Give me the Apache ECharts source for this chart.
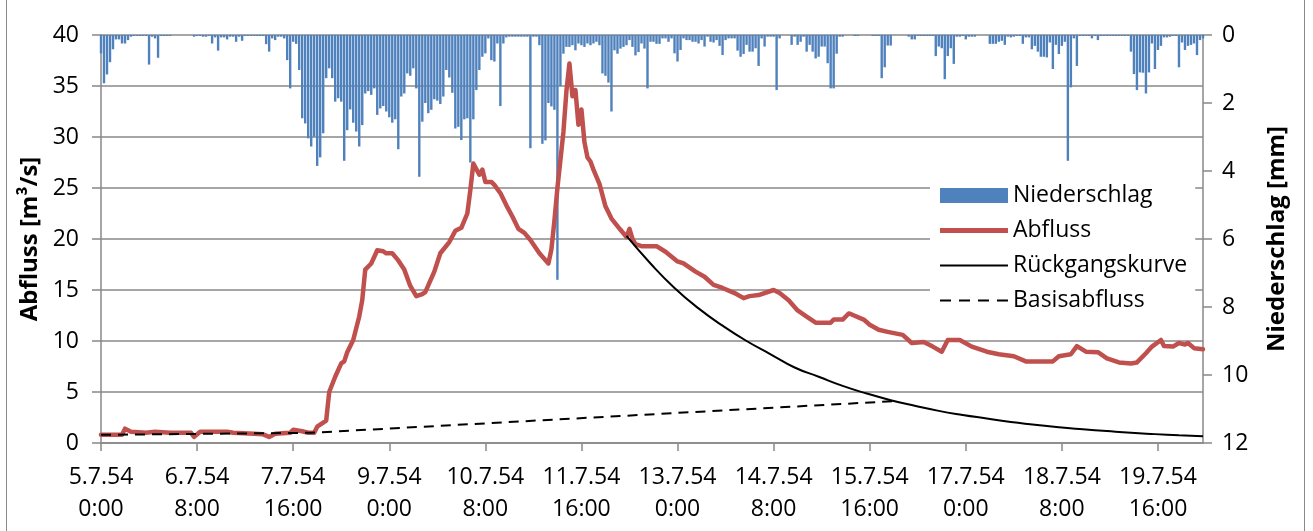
<!DOCTYPE html>
<html>
<head>
<meta charset="utf-8">
<script src="https://cdn.jsdelivr.net/npm/echarts@6/dist/echarts.min.js"></script>
<style>
  html, body { margin: 0; padding: 0; background: #fff; }
  #frame { position: absolute; left: 6px; top: -2px; width: 1299px; height: 534px; border: 1px solid #8a8a8a; box-sizing: border-box; }
  #chart { position: absolute; left: 0; top: 0; width: 1313px; height: 531px; }
</style>
</head>
<body>
<div id="frame"></div>
<div id="chart"></div>
<script>
// hourly steps from 5.7.54 0:00
const hours = Array.from({ length: 368 }, (_, i) => i)
const xTickLabels = ['5.7.54\n0:00', '6.7.54\n8:00', '7.7.54\n16:00', '9.7.54\n0:00', '10.7.54\n8:00', '11.7.54\n16:00',
  '13.7.54\n0:00', '14.7.54\n8:00', '15.7.54\n16:00', '17.7.54\n0:00', '18.7.54\n8:00', '19.7.54\n16:00']

// Niederschlag [mm] per hour, one row per day
const niederschlag = [
  0.54, 1.42, 1.16, 0.8, 0.42, 0.13, 0.13, 0.25, 0.25, 0.15, 0.05, 0.03, 0.03, 0.03, 0.03, 0.03, 0.87, 0.05, 0.1, 0.67, 0.03, 0.03, 0.03, 0.03,
  0, 0, 0, 0, 0, 0, 0, 0.05, 0.03, 0.03, 0.05, 0.05, 0.03, 0.25, 0.07, 0.46, 0.07, 0.07, 0.13, 0.05, 0.05, 0.2, 0.05, 0.17,
  0.03, 0.03, 0.03, 0.03, 0.03, 0.03, 0.03, 0.27, 0.49, 0.1, 0.15, 0.05, 0.05, 0.1, 0.74, 1.57, 0.2, 0.26, 1.03, 2.45, 2.6, 3.04, 3.28, 2.99,
  3.85, 3.6, 2.89, 1.27, 0.98, 1.27, 1.96, 1.86, 1.96, 3.7, 2.8, 2.19, 2.58, 2.84, 3.28, 2.65, 1.72, 1.65, 1.76, 1.57, 2.35, 2.16, 2.09, 2.25,
  2.42, 2.58, 2.48, 3.36, 1.81, 1.72, 1.13, 1.2, 0.98, 1.57, 4.17, 2.55, 2.0, 2.3, 2.2, 1.89, 1.93, 2.03, 1.81, 1.03, 1.25, 1.7, 2.75, 2.7,
  3.09, 2.48, 2.45, 3.75, 2.48, 1.62, 1.03, 0.64, 0.54, 0.1, 0.74, 0.78, 0.25, 2.09, 0.25, 0.07, 0.05, 0.05, 0.05, 0.05, 0.05, 0.05, 0.05, 3.33,
  0.05, 0.05, 0.3, 3.2, 3.1, 2.0, 2.1, 2.2, 7.2, 1.5, 0.55, 0.35, 0.35, 0.3, 0.45, 0.25, 0.3, 0.35, 0.25, 0.3, 0.25, 0.2, 0.3, 1.13,
  1.2, 1.4, 2.25, 0.45, 0.55, 0.4, 0.35, 0.3, 0.15, 0.35, 0.6, 0.5, 0.25, 0.4, 1.57, 0.2, 0.2, 0.26, 0.26, 0.1, 0.1, 0.2, 0.1, 0.54,
  0.78, 0.44, 0.1, 0.15, 0.15, 0.2, 0.2, 0.25, 0.15, 0.34, 0.05, 0.2, 0.22, 0.15, 0.32, 0.59, 0.15, 0.1, 0.1, 0.1, 0.46, 0.64, 0.56, 0.29,
  0.49, 0.49, 0.39, 0.91, 0.1, 0.34, 0.05, 0.05, 0.05, 1.62, 0.1, 0, 0, 0, 0.29, 0.05, 0.29, 0.2, 0.05, 0.49, 0.29, 0.49, 0.69, 0.64,
  0.34, 0.34, 0.83, 1.57, 1.57, 0.55, 0.05, 0.05, 0, 0, 0, 0.03, 0.03, 0, 0, 0, 0, 0.03, 0.03, 0.03, 1.27, 0.95, 0.31, 0.31,
  0, 0, 0, 0, 0, 0.05, 0.13, 0.13, 0.03, 0.03, 0.03, 0.03, 0.03, 0.03, 0.62, 0.34, 0.39, 1.3, 0.62, 0.39, 0.85, 0.05, 0.05, 0.03,
  0.13, 0.05, 0.05, 0.05, 0, 0, 0, 0, 0.26, 0.26, 0.26, 0.2, 0.17, 0.29, 0.05, 0.07, 0.05, 0.03, 0.03, 0.26, 0.07, 0.07, 0.42, 0.32,
  0.49, 0.64, 0.64, 0.66, 0.22, 1.0, 0.29, 0.56, 0.32, 0.2, 3.7, 1.54, 0.1, 0.91, 0.03, 0.03, 0.03, 0.03, 0.1, 0.03, 0.15, 0.03, 0.03, 0.03,
  0.03, 0.03, 0.03, 0.03, 0.03, 0.03, 0.03, 0.49, 1.15, 1.62, 1.1, 1.11, 1.72, 1.1, 0.25, 1.0, 0.44, 0.32, 0.07, 0.07, 0.05, 0.03, 0.03, 0.95,
  0.22, 0.44, 0.32, 0.29, 0.25, 0.59, 0.15, 0.1
]

// Abfluss [m3/s] as [hour, value]
const abfluss = [
  [0, 0.8], [7, 0.8], [8, 1.4], [10, 1.1], [15, 1.0], [18, 1.1], [23, 1.0], [30, 1.0], [31, 0.6], [33, 1.1], [42, 1.1], [44, 1.0],
  [51, 0.9], [54, 0.85], [56, 0.6], [58, 0.9], [63, 1.0], [64, 1.3], [67, 1.15], [69, 1.0], [71, 1.0], [72, 1.6], [75, 2.2], [76, 5.0],
  [78, 6.5], [80, 7.8], [81, 8.0], [82, 8.9], [84, 10.1], [86, 12.4], [87, 14.0], [88, 17.0], [90, 17.6], [92, 18.9], [94, 18.8], [95, 18.6],
  [97, 18.6], [99, 17.9], [101, 17.0], [103, 15.4], [105, 14.4], [107, 14.6], [108, 14.8], [111, 16.8], [113, 18.6], [116, 19.7], [118, 20.8],
  [120, 21.1], [122, 22.5], [123, 24.8], [124, 27.4], [126, 26.3], [127, 26.8], [128, 25.6], [130, 25.6], [131, 25.3], [133, 24.5], [135, 23.3],
  [137, 22.2], [139, 21.0], [141, 20.6], [143, 19.9], [146, 18.6], [149, 17.6], [150, 19.0], [151, 21.8], [152, 25.0], [154, 30.5], [155, 34.5],
  [156, 37.2], [157, 34.0], [158, 34.6], [159, 31.2], [160, 32.7], [161, 29.5], [162, 28.0], [163, 27.6], [164, 26.8], [166, 25.4], [168, 23.2],
  [170, 22.0], [173, 20.9], [175, 20.2], [176, 21.0], [177, 20.0], [178, 19.5], [180, 19.3], [185, 19.3], [188, 18.75], [192, 17.8], [194, 17.6],
  [198, 16.8], [201, 16.3], [204, 15.5], [207, 15.2], [211, 14.7], [214, 14.2], [216, 14.4], [219, 14.5], [224, 15.0], [226, 14.7], [229, 14.0],
  [232, 13.0], [235, 12.4], [238, 11.8], [243, 11.8], [244, 12.1], [247, 12.1], [249, 12.7], [250, 12.6], [254, 12.1], [256, 11.6], [259, 11.1],
  [262, 10.9], [267, 10.6], [270, 9.8], [274, 9.9], [277, 9.45], [280, 8.95], [282, 10.1], [286, 10.1], [290, 9.45], [295, 8.95], [299, 8.7],
  [304, 8.5], [308, 8.0], [317, 8.0], [319, 8.5], [323, 8.7], [325, 9.5], [328, 8.95], [332, 8.9], [335, 8.3], [339, 7.9], [343, 7.8],
  [345, 7.9], [348, 8.8], [350, 9.45], [353, 10.1], [354, 9.5], [357, 9.45], [359, 9.8], [361, 9.65], [362, 9.8], [364, 9.3], [367, 9.2]
]

const rueckgang = [
  [175, 20.3], [183, 17.6], [191, 15.2], [199, 13.2], [207, 11.5], [215, 10.0], [223, 8.7], [231, 7.4], [239, 6.5], [247, 5.6], [255, 4.85],
  [263, 4.2], [271, 3.65], [279, 3.15], [287, 2.75], [295, 2.4], [303, 2.05], [311, 1.8], [319, 1.55], [327, 1.35], [335, 1.17], [343, 1.0],
  [351, 0.87], [359, 0.75], [367, 0.65]
]

const basisabfluss = [[0, 0.8], [70, 1.0], [264, 4.1]]

const FONT = '"Open Sans", sans-serif'
const GRAY = '#888'

// legend line icons: invisible corner dots keep the 68x15 box, the band is the line
const dot = 'M0,0h0.01v0.01h-0.01Z M68,15h0.01v0.01h-0.01Z'
const iconThick = 'path://' + dot + ' M0,5H68V10H0Z'
const iconThin = 'path://' + dot + ' M0,6.5H68V8.5H0Z'
const iconDash = 'path://' + dot + ' M0,6.5H11V8.5H0Z M19,6.5H30V8.5H19Z M38,6.5H49V8.5H38Z M57,6.5H68V8.5H57Z'

const chart = echarts.init(document.getElementById('chart'))
chart.setOption({
  animation: false,
  textStyle: { fontFamily: FONT, color: '#000' },
  grid: { left: 101, right: 110, top: 35, bottom: 88 },
  legend: {
    orient: 'vertical',
    left: 930,
    top: 174,
    padding: [10, 8, 10, 10],
    backgroundColor: '#fff',
    itemWidth: 68,
    itemHeight: 15,
    itemGap: 12,
    textStyle: { fontFamily: FONT, fontSize: 23, color: '#000' },
    data: [
      { name: 'Niederschlag', icon: 'rect' },
      { name: 'Abfluss', icon: iconThick },
      { name: 'Rückgangskurve', icon: iconThin },
      { name: 'Basisabfluss', icon: iconDash }
    ]
  },
  xAxis: {
    type: 'category',
    data: hours,
    boundaryGap: false,
    axisLine: { lineStyle: { color: GRAY, width: 1.5 } },
    axisTick: { interval: 31, length: 8, lineStyle: { color: GRAY, width: 1.5 } },
    axisLabel: {
      interval: 31,
      margin: 18,
      fontSize: 23,
      lineHeight: 32,
      color: '#000',
      formatter: (v, i) => xTickLabels[i / 32] || ''
    },
    splitLine: { show: false }
  },
  yAxis: [
    {
      type: 'value',
      min: 0, max: 40, interval: 5,
      name: 'Abfluss [m³/s]',
      nameLocation: 'middle',
      nameRotate: 90,
      nameGap: 56,
      nameTextStyle: { fontFamily: FONT, fontSize: 24, fontWeight: 'bold', color: '#000' },
      axisLine: { show: true, lineStyle: { color: GRAY, width: 1.5 } },
      axisTick: { show: true, length: 9, lineStyle: { color: GRAY, width: 1.5 } },
      axisLabel: { margin: 22, fontSize: 23, color: '#000' },
      splitLine: { lineStyle: { color: GRAY, width: 1.5 } }
    },
    {
      type: 'value',
      min: 0, max: 12, interval: 2,
      inverse: true,
      position: 'right',
      name: 'Niederschlag [mm]',
      nameLocation: 'middle',
      nameRotate: 90,
      nameGap: 62,
      nameTextStyle: { fontFamily: FONT, fontSize: 24, fontWeight: 'bold', color: '#000' },
      axisLine: { show: true, lineStyle: { color: GRAY, width: 1.5 } },
      axisTick: { show: true, length: 9, lineStyle: { color: GRAY, width: 1.5 } },
      axisLabel: { margin: 19, fontSize: 23, color: '#000' },
      splitLine: { show: false }
    }
  ],
  series: [
    {
      name: 'Niederschlag',
      type: 'bar',
      yAxisIndex: 1,
      barWidth: 2.4,
      itemStyle: { color: '#4F81BD' },
      data: niederschlag
    },
    {
      name: 'Abfluss',
      type: 'line',
      symbol: 'none',
      lineStyle: { color: '#C0504D', width: 4.5, cap: 'round', join: 'round' },
      itemStyle: { color: '#C0504D' },
      data: abfluss,
      z: 3
    },
    {
      name: 'Rückgangskurve',
      type: 'line',
      symbol: 'none',
      smooth: true,
      lineStyle: { color: '#000', width: 2 },
      itemStyle: { color: '#000' },
      data: rueckgang,
      z: 4
    },
    {
      name: 'Basisabfluss',
      type: 'line',
      symbol: 'none',
      lineStyle: { color: '#000', width: 2, type: [10, 7] },
      itemStyle: { color: '#000' },
      data: basisabfluss,
      z: 4
    }
  ]
})
</script>
</body>
</html>
